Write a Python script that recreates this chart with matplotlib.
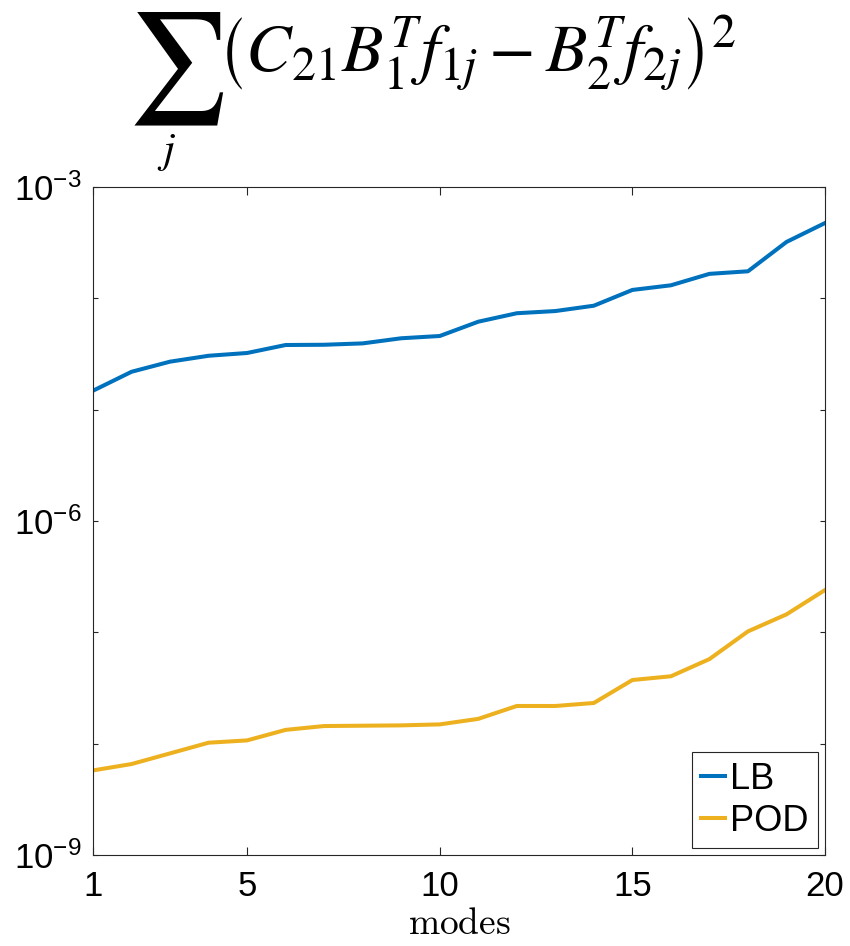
import numpy as np
import matplotlib
matplotlib.use("Agg")
import matplotlib.pyplot as plt

plt.rcParams['font.family'] = ['Liberation Sans', 'DejaVu Sans']

modes = np.arange(1, 21)
lb = [1.48e-5, 2.19e-5, 2.70e-5, 3.05e-5, 3.23e-5, 3.81e-5, 3.83e-5, 3.94e-5,
      4.38e-5, 4.59e-5, 6.17e-5, 7.35e-5, 7.69e-5, 8.59e-5, 1.19e-4, 1.31e-4,
      1.66e-4, 1.75e-4, 3.21e-4, 4.75e-4]
pod = [5.75e-9, 6.56e-9, 8.18e-9, 1.02e-8, 1.07e-8, 1.33e-8, 1.44e-8, 1.45e-8,
       1.46e-8, 1.49e-8, 1.67e-8, 2.18e-8, 2.18e-8, 2.32e-8, 3.73e-8, 4.03e-8,
       5.75e-8, 1.02e-7, 1.45e-7, 2.40e-7]
xticks = [1, 5, 10, 15, 20]
yticks = [1e-9, 1e-6, 1e-3]
yticklabels = [r'$\mathregular{10^{-9}}$', r'$\mathregular{10^{-6}}$', r'$\mathregular{10^{-3}}$']
yminor = [1e-8, 1e-7, 1e-5, 1e-4]

fig = plt.figure(figsize=(8.5, 9.46), dpi=100)
ax = fig.add_axes([0.1094, 0.0962, 0.8612, 0.7061])

ax.plot(modes, lb, color='#0072BD', lw=2.9, label='LB')
ax.plot(modes, pod, color='#EDB120', lw=2.9, label='POD')

ax.set_yscale('log')
ax.set_xlim(1, 20)
ax.set_ylim(1e-9, 1e-3)
ax.set_xticks(xticks)
ax.set_yticks(yticks)
ax.set_yticklabels(yticklabels)
ax.set_yticks(yminor, minor=True)
ax.yaxis.set_minor_formatter(plt.NullFormatter())

ax.tick_params(axis='x', which='both', direction='in', top=True, length=6,
               width=0.8, color='#262626', labelsize=25, pad=11)
ax.tick_params(axis='y', which='both', direction='in', right=True, length=3.5,
               width=0.8, color='#262626', labelsize=25, pad=8)
for s in ax.spines.values():
    s.set_color('#262626')
    s.set_linewidth(0.8)

ax.set_xlabel(r'$\mathrm{modes}$', fontsize=27, math_fontfamily='cm', labelpad=2)

# title: large summation sign with index below, then the summand
fig.text(0.206, 0.927, r'$\sum$', ha='center', va='center',
         fontsize=80, math_fontfamily='stix')
fig.text(0.196, 1 - 162 / 946, r'$j$', ha='center', va='baseline',
         fontsize=31, math_fontfamily='stix')
fig.text(0.256, 1 - 72 / 946,
         r'$\left(C_{21}B_1^T f_{1j} - B_2^T f_{2j}\right)^2$',
         ha='left', va='baseline', fontsize=49, math_fontfamily='stix')

leg = ax.legend(loc='lower right', fontsize=26, handlelength=0.65,
                handletextpad=0.15, borderpad=0.25, labelspacing=0.2,
                borderaxespad=0.2, fancybox=False, framealpha=1)
leg.get_frame().set_edgecolor('#262626')
leg.get_frame().set_linewidth(0.8)

fig.savefig('out.png', dpi=100)
plt.close(fig)
